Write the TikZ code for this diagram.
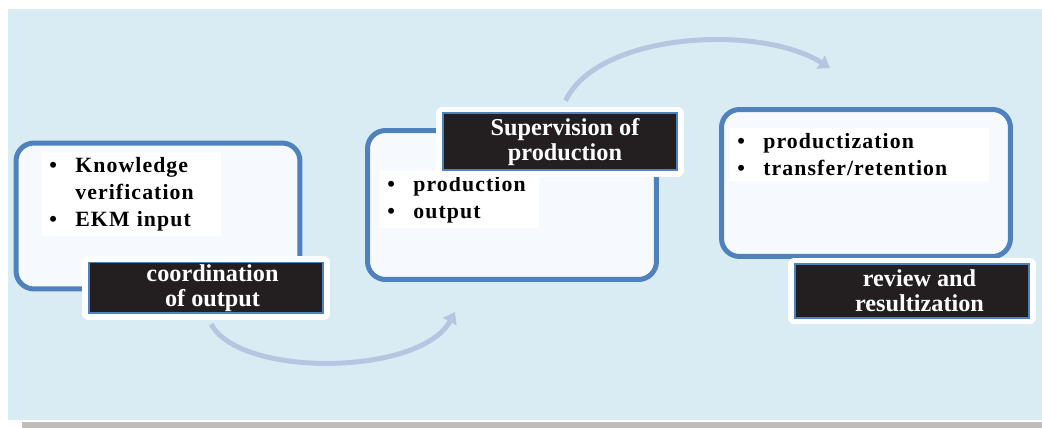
\documentclass[tikz,border=0pt]{standalone}
\usepackage{fontspec}
\setmainfont{Liberation Serif}
\newfontfamily\listfont[LetterSpace=5]{Liberation Serif}
\usetikzlibrary{arrows.meta}

\definecolor{bgblue}{HTML}{DAECF3}
\definecolor{rimblue}{HTML}{4F81BD}
\definecolor{panelfill}{HTML}{F6FAFE}
\definecolor{tagblack}{HTML}{231F20}
\definecolor{flowblue}{HTML}{B6C6E0}
\definecolor{shadowgray}{HTML}{BDBDBA}

% bullet with hanging space
\newcommand{\itm}{\makebox[0.52cm][l]{\textbullet}}
\newcommand{\hang}{\hspace*{0.52cm}}

\begin{document}
\begin{tikzpicture}[
        x=0.02cm, y=-0.02cm,
        panel/.style={
            rectangle, draw=rimblue, line width=0.1cm,
            fill=panelfill, rounded corners=0.36cm,
            inner sep=0pt
        },
        tag/.style={
            rectangle, fill=tagblack, draw=rimblue, line width=0.04cm,
            text=white, align=center, inner sep=0pt,
            font=\bfseries\fontsize{13.8}{14.2}\selectfont,
            minimum width=4.7cm,
            preaction={draw=white, line width=0.26cm, line join=round}
        },
        items/.style={
            rectangle, fill=white, anchor=north west, align=left,
            inner xsep=0.14cm, inner ysep=0.1cm,
            font=\listfont\bfseries\fontsize{12.4}{15.4}\selectfont
        },
        flow/.style={
            draw=flowblue, line width=0.1cm,
            -{Triangle[length=0.22cm, width=0.3cm]}
        }
    ]

    \useasboundingbox (0,0) rectangle (1042,428);

    % backdrop and its shadow
    \fill[shadowgray] (22,422) rectangle (1042,428);
    \fill[bgblue] (8,9) rectangle (1042,420);

    % panels
    \node[panel, minimum width=5.68cm, minimum height=2.92cm] (p1) at (158,216) {};
    \node[panel, minimum width=5.78cm, minimum height=2.98cm] (p2) at (512,205) {};
    \node[panel, minimum width=5.78cm, minimum height=2.94cm] (p3) at (866,183) {};

    % bullet lists
    \node[items, text width=3.3cm] (l1) at (42,152)
        {\itm Knowledge\\ \hang verification\\ \itm EKM input};
    \node[items, text width=2.9cm] (l2) at (380,171)
        {\itm production\\ \itm output};
    \node[items, text width=4.9cm] (l3) at (730,128)
        {\itm productization\\ \itm transfer/retention};

    % arrows between the stages
    \coordinate (a1) at (455,312);
    \coordinate (a2) at (830,68);

    % tags
    \node[tag, minimum height=1.02cm] (t1) at (206,288) {\hspace*{0.26cm}coordination\\\hspace*{0.26cm}of output};
    \node[tag, minimum height=1.14cm] (t2) at (560,142) {\hspace*{0.2cm}Supervision of\\\hspace*{0.2cm}production};
    \node[tag, minimum height=1.08cm] (t3) at (912,291) {\hspace*{0.3cm}review and\\\hspace*{0.3cm}resultization};

    \draw[flow, shorten <=0.22cm] (t1.south) .. controls (240,378) and (420,376) .. (a1);
    \draw[flow, shorten <=0.26cm] (t2.north) .. controls (598,32) and (760,24) .. (a2);

\end{tikzpicture}
\end{document}
